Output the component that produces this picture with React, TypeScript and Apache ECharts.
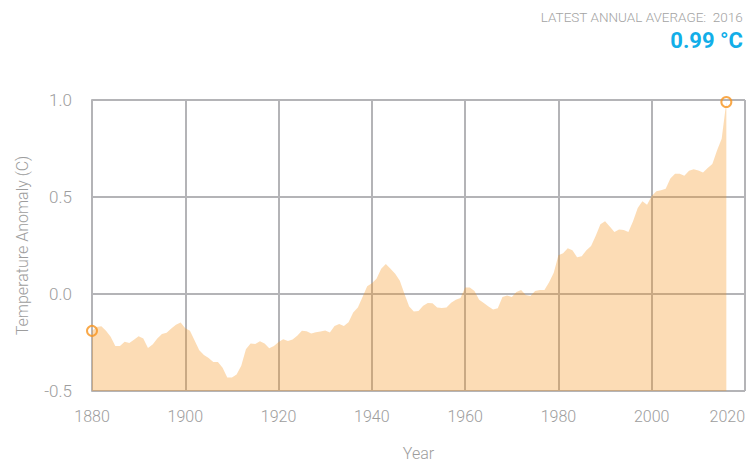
import React, { useEffect, useRef } from "react";
import * as echarts from "echarts";

const years: number[] = [];
for (let y = 1880; y <= 2016; y++) years.push(y);

const anomalies: number[] = [
  -0.19, -0.17, -0.166, -0.19, -0.22, -0.268, -0.268, -0.246, -0.253, -0.236,
  -0.218, -0.23, -0.278, -0.26, -0.23, -0.206, -0.2, -0.178, -0.158, -0.147,
  -0.176, -0.19, -0.24, -0.29, -0.315, -0.33, -0.35, -0.35, -0.38, -0.43,
  -0.43, -0.415, -0.37, -0.285, -0.255, -0.258, -0.243, -0.255, -0.28, -0.268,
  -0.248, -0.233, -0.242, -0.235, -0.215, -0.19, -0.192, -0.203, -0.197, -0.193,
  -0.188, -0.198, -0.165, -0.155, -0.165, -0.145, -0.095, -0.07, -0.015, 0.04,
  0.055, 0.078, 0.13, 0.155, 0.13, 0.105, 0.068, 0.0, -0.065, -0.09,
  -0.088, -0.06, -0.047, -0.048, -0.07, -0.072, -0.07, -0.045, -0.03, -0.02,
  0.033, 0.033, 0.015, -0.03, -0.047, -0.065, -0.08, -0.073, -0.015, -0.008,
  -0.015, 0.01, 0.02, -0.005, -0.01, 0.015, 0.02, 0.02, 0.06, 0.11,
  0.2, 0.21, 0.236, 0.225, 0.19, 0.195, 0.225, 0.247, 0.3, 0.36,
  0.375, 0.348, 0.32, 0.332, 0.33, 0.32, 0.375, 0.443, 0.478, 0.46,
  0.505, 0.53, 0.535, 0.542, 0.596, 0.62, 0.62, 0.61, 0.635, 0.643,
  0.636, 0.626, 0.65, 0.67, 0.74, 0.8, 0.99,
];

const yTicks = { min: -0.5, max: 1.0, interval: 0.5 };
const xTicks = { min: 1880, max: 2020, interval: 20 };

const latestYear = "2016";
const latestValue = "0.99 °C";

const FONT = "Roboto, 'Helvetica Neue', Arial, sans-serif";
const GRID_COLOR = "#b4b4b7";
const TEXT_COLOR = "#9d9d9d";

export default function App() {
  const ref = useRef<HTMLDivElement>(null);

  useEffect(() => {
    if (!ref.current) return;
    const chart = echarts.init(ref.current, undefined, { renderer: "svg" });
    const seriesData = years.map((y, i) => [y, anomalies[i]]);
    const endpoints = [seriesData[0], seriesData[seriesData.length - 1]];

    chart.setOption({
      animation: false,
      backgroundColor: "#ffffff",
      textStyle: { fontFamily: FONT },
      grid: { left: 92, right: 3, top: 100, bottom: 69, containLabel: false },
      graphic: [
        {
          type: "text",
          right: 5,
          top: 10,
          style: {
            text: "LATEST ANNUAL AVERAGE:  " + latestYear,
            fill: "#a3a3a3",
            font: "300 13.5px " + FONT,
          },
        },
        {
          type: "text",
          right: 5,
          top: 29,
          style: {
            text: latestValue,
            fill: "#12aee8",
            font: "bold 22px " + FONT,
          },
        },
      ],
      xAxis: {
        type: "value",
        min: xTicks.min,
        max: xTicks.max,
        interval: xTicks.interval,
        name: "Year",
        nameLocation: "middle",
        nameGap: 54,
        nameTextStyle: { color: TEXT_COLOR, fontSize: 16, fontWeight: 300, fontFamily: FONT },
        axisLine: { show: true, lineStyle: { color: GRID_COLOR, width: 2 } },
        axisTick: { show: false },
        axisLabel: {
          color: TEXT_COLOR,
          fontSize: 16,
          fontWeight: 300,
          fontFamily: FONT,
          margin: 17,
          alignMaxLabel: "right",
          formatter: (v: number) => String(v),
        },
        splitLine: { show: true, lineStyle: { color: GRID_COLOR, width: 2 } },
      },
      yAxis: {
        type: "value",
        min: yTicks.min,
        max: yTicks.max,
        interval: yTicks.interval,
        name: "Temperature Anomaly (C)",
        nameLocation: "middle",
        nameGap: 62,
        nameTextStyle: { color: TEXT_COLOR, fontSize: 16, fontWeight: 300, fontFamily: FONT },
        axisLine: { show: true, lineStyle: { color: GRID_COLOR, width: 2 } },
        axisTick: { show: false },
        axisLabel: {
          color: TEXT_COLOR,
          fontSize: 17,
          fontWeight: 300,
          fontFamily: FONT,
          margin: 20,
          formatter: (v: number) => v.toFixed(1),
        },
        splitLine: { show: true, lineStyle: { color: GRID_COLOR, width: 2 } },
      },
      series: [
        {
          type: "line",
          data: seriesData,
          showSymbol: false,
          symbol: "none",
          lineStyle: { width: 0, opacity: 0 },
          areaStyle: { color: "#f7941d", opacity: 0.33, origin: "start" },
          z: 3,
        },
        {
          type: "scatter",
          data: endpoints,
          symbol: "circle",
          symbolSize: 10,
          itemStyle: { color: "rgba(255,255,255,0)", borderColor: "#f7941d", borderWidth: 2 },
          z: 5,
        },
      ],
    });

    return () => chart.dispose();
  }, []);

  return (
    <div
      ref={ref}
      style={{ position: "fixed", left: 0, top: 0, width: 748, height: 466 }}
    />
  );
}
